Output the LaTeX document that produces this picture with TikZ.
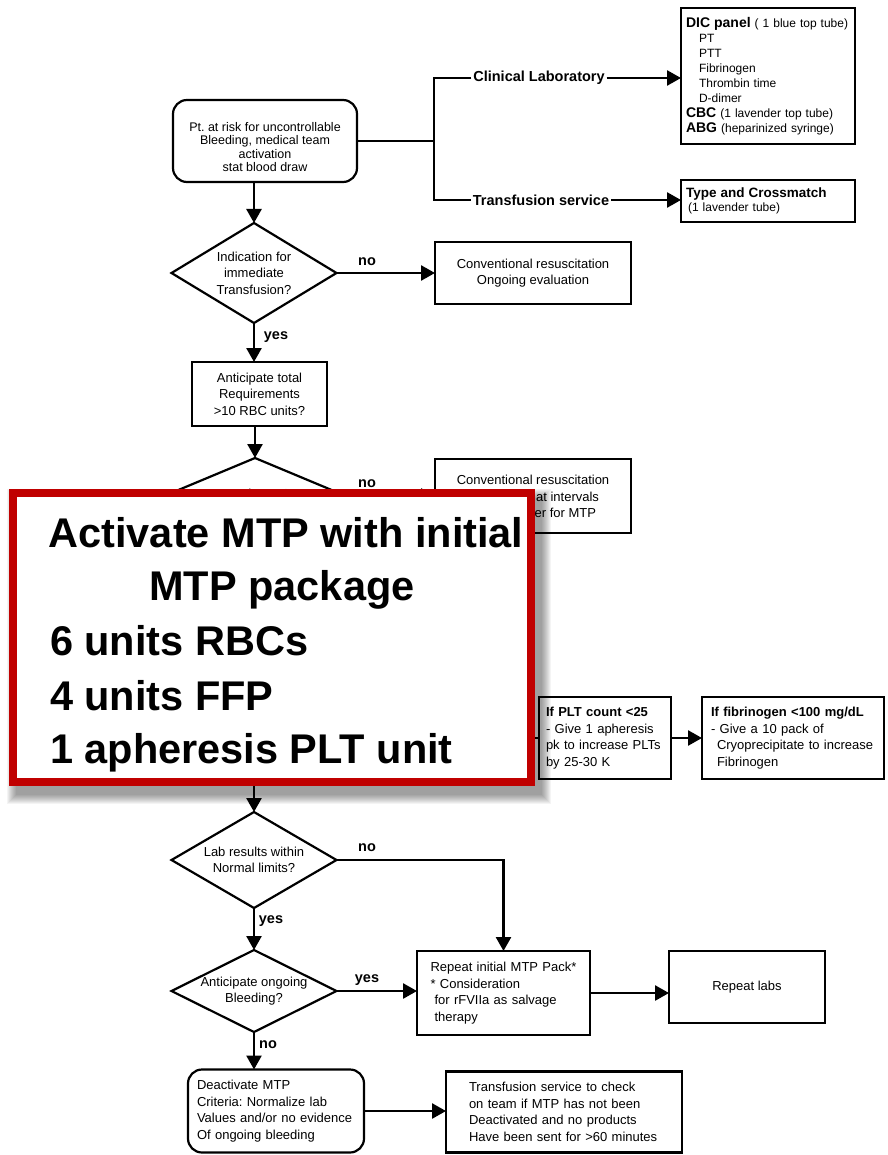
\documentclass[tikz,border=0pt]{standalone}
\usepackage{fontspec}
\setmainfont{Liberation Sans}
\usetikzlibrary{arrows.meta,shapes.geometric}
\definecolor{mtpred}{RGB}{192,0,0}
\frenchspacing
\begin{document}
\begin{tikzpicture}[x=1pt,y=-1pt,
  base/.style={inner sep=0pt, outer sep=0pt},
  f13/.style={font=\fontsize{13}{16.5}\selectfont},
  box/.style={base, draw, line width=2.2pt, f13, align=center},
  lbox/.style={box, align=left},
  dia/.style={base, draw, line width=2.2pt, diamond},
  dtxt/.style={base, f13, align=center},
  ln/.style={line width=2.6pt},
  arr/.style={ln, -{Triangle[length=14pt,width=15pt]}},
  lbl/.style={inner sep=2pt, outer sep=0pt, font=\bfseries\fontsize{14.5}{17}\selectfont},
  yn/.style={base, font=\bfseries\fontsize{14.5}{17}\selectfont},
  big/.style={base, font=\bfseries\fontsize{41.5}{54}\selectfont}
]
\fill[white] (0,0) rectangle (887,1155);
\useasboundingbox (0,0) rectangle (887,1155);

% top
\node[box, rounded corners=14pt, minimum width=184pt, minimum height=82pt] (start) at (265,141) {};
\node[dtxt, font=\fontsize{12.5}{13.2}\selectfont] (startt) at (265,147) {Pt. at risk for uncontrollable\\Bleeding, medical team\\activation\\stat blood draw};
\node[lbox, minimum width=174pt, minimum height=136pt, text width=164pt, font=\fontsize{12}{15}\selectfont] (dic) at (768,76) {{\fontsize{14}{15}\selectfont\bfseries DIC panel} ( 1 blue top tube)\\\hspace*{13pt}PT\\\hspace*{13pt}PTT\\\hspace*{13pt}Fibrinogen\\\hspace*{13pt}Thrombin time\\\hspace*{13pt}D-dimer\\{\fontsize{14}{15}\selectfont\bfseries CBC} (1 lavender top tube)\\{\fontsize{14}{15}\selectfont\bfseries ABG} (heparinized syringe)};
\node[lbox, minimum width=174pt, minimum height=42pt, text width=164pt, font=\fontsize{12}{14}\selectfont] (tc) at (768,201) {{\fontsize{13.5}{14}\selectfont\bfseries Type and Crossmatch}\\\hspace*{2pt}(1 lavender tube)};
\node[lbl] (cl) at (539,78) {Clinical Laboratory};
\node[lbl] (ts) at (541,200) {Transfusion service};
\coordinate (j) at (434,141);
\coordinate (jt) at (434,78);
\coordinate (jb) at (434,200);
\draw[ln] (start.east) -- (j);
\draw[ln, line join=miter] (cl.west) -- (jt) -- (jb) -- (ts.west);
\draw[arr] (cl.east) -- (cl.east -| dic.west);
\draw[arr] (ts.east) -- (ts.east -| tc.west);

% decision 1
\node[dia, minimum width=165pt, minimum height=100pt] (d1) at (254,273) {};
\node[dtxt] (d1t) at (d1) {Indication for\\immediate\\Transfusion?};
\node[box, minimum width=196pt, minimum height=62pt] (box1) at (533,273) {Conventional resuscitation\\Ongoing evaluation};
\draw[arr] (d1.north |- start.south) -- (d1.north);
\draw[arr] (d1.east) -- (box1.west);
\node[yn] (n1) at (367,262) {no};
\node[box, minimum width=135pt, minimum height=64pt] (ant) at (259.5,394) {Anticipate total\\Requirements\\>10 RBC units?};
\draw[arr] (d1.south) -- (d1.south |- ant.north);
\node[yn] (y1) at (276,337) {yes};

% decision 2 (mostly hidden by the overlay)
\node[dia, minimum width=182pt, minimum height=76pt] (d2) at (255,496) {};
\node[dtxt] (d2t) at (255,494) {Need MTP?};
\draw[arr] (d2.north |- ant.south) -- (d2.north);
\node[box, minimum width=196pt, minimum height=74pt] (box2) at (533,496) {};
\node[dtxt] (b2a) at (533,480) {Conventional resuscitation};
\node[dtxt, anchor=east] (b2b) at (599,497) {at intervals};
\node[dtxt, anchor=east] (b2c) at (596,513) {er for MTP};
\draw[arr] (d2.east) -- (box2.west);
\node[yn] (n2) at (367,484) {no};

% right boxes
\node[lbox, minimum width=132pt, minimum height=82pt, text width=118pt] (plt) at (605,738) {\textbf{If PLT count <25}\\- Give 1 apheresis\\pk to increase PLTs\\by 25-30 K};
\node[lbox, minimum width=182pt, minimum height=82pt, text width=164pt] (fib) at (793,738) {\textbf{If fibrinogen <100 mg/dL}\\- Give a 10 pack of\\\hspace*{6pt}Cryoprecipitate to increase\\\hspace*{6pt}Fibrinogen};
\draw[arr] (plt.east) -- (fib.west);

% decision 3
\node[dia, minimum width=165pt, minimum height=96pt] (d3) at (254,860) {};
\node[dtxt] (d3t) at (d3) {Lab results within\\Normal limits?};
\coordinate (hid1) at (254,760);
\coordinate (hid2) at (500,738);
\draw[arr] (hid1) -- (d3.north);
\draw[ln] (hid2) -- (plt.west);

% shadow
\foreach \k in {0,...,9} {
  \fill[black, opacity=0.045] ({16-\k},{498-\k}) rectangle ({542+\k},{795+\k});
}
% overlay
\node[base, draw=mtpred, line width=8pt, fill=white, minimum width=518pt, minimum height=289pt, anchor=north west] (mtp) at (13,493) {};
\node[big, anchor=base] (t1) at (286,547) {Activate MTP with initial};
\node[big, anchor=base] (t2) at (282,600) {MTP package};
\node[big, anchor=base west] (t3) at (50,655) {6 units RBCs};
\node[big, anchor=base west] (t4) at (50,710) {4 units FFP};
\node[big, anchor=base west] (t5) at (50,763) {1 apheresis PLT unit};

% lower part
\node[lbox, minimum width=173pt, minimum height=84pt, text width=146pt] (rep) at (503.5,993) {Repeat initial MTP Pack*\\{}* Consideration\\\hspace*{4pt}for rFVIIa as salvage\\\hspace*{4pt}therapy};
\node[box, minimum width=156pt, minimum height=72pt] (labs) at (747,987) {Repeat labs};
\node[dia, minimum width=165pt, minimum height=82pt] (d4) at (254,991) {};
\node[dtxt] (d4t) at (d4) {Anticipate ongoing\\Bleeding?};
\draw[arr] (d3.east) -| (rep.north);
\node[yn] (n3) at (367,848) {no};
\draw[arr] (d3.south) -- (d4.north);
\node[yn] (y3) at (271,921) {yes};
\draw[arr] (d4.east) -- (rep.west |- d4.east);
\node[yn] (y4) at (367,980) {yes};
\draw[arr] (rep.east) -- (rep.east -| labs.west);
\node[lbox, rounded corners=14pt, minimum width=176pt, minimum height=83pt, text width=158pt] (deact) at (276,1111) {Deactivate MTP\\Criteria: Normalize lab\\Values and/or no evidence\\Of ongoing bleeding};
\node[lbox, minimum width=236pt, minimum height=81pt, text width=190pt] (chk) at (564,1112) {Transfusion service to check\\on team if MTP has not been\\Deactivated and no products\\Have been sent for >60 minutes};
\draw[arr] (d4.south) -- (d4.south |- deact.north);
\node[yn] (n4) at (268,1045) {no};
\draw[arr] (deact.east) -- (deact.east -| chk.west);
\end{tikzpicture}
\end{document}
